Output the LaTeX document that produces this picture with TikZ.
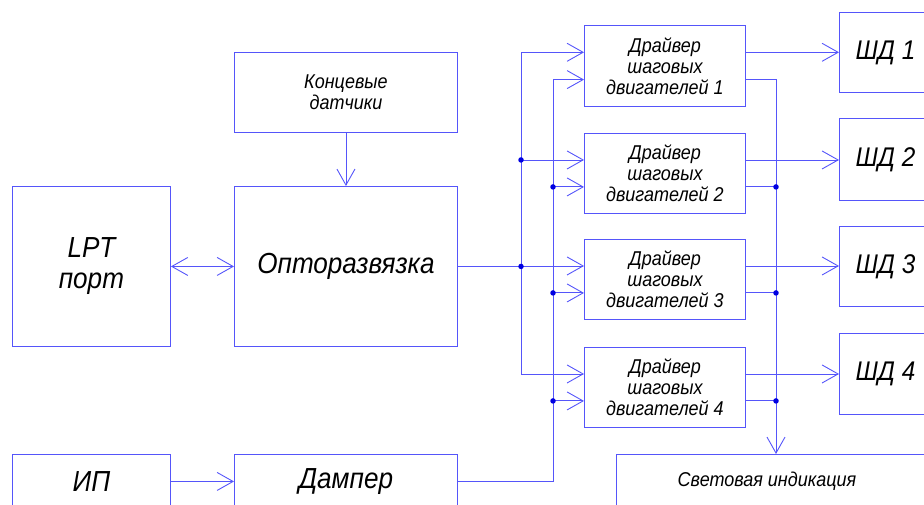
\documentclass[tikz,border=0pt]{standalone}
\usepackage{fontspec}
\setmainfont[FakeStretch=0.9]{Liberation Sans}
\usetikzlibrary{arrows.meta,calc}

\definecolor{wire}{RGB}{85,85,250}
\definecolor{joint}{RGB}{0,0,225}

\tikzset{
  box/.style={draw=wire, line width=0.9pt, rectangle, anchor=north west,
              inner sep=0pt, align=center, font=\itshape},
  big/.style={font=\fontsize{29}{31}\selectfont\itshape},
  mid/.style={font=\fontsize{27}{28}\selectfont\itshape},
  small/.style={font=\fontsize{20}{21}\selectfont\itshape},
  wireline/.style={draw=wire, line width=0.9pt},
  arr/.style={wireline, -{Straight Barb[length=16pt,width=18pt]}},
  arrboth/.style={wireline, {Straight Barb[length=16pt,width=18pt]}-{Straight Barb[length=16pt,width=18pt]}},
  dot/.style={circle, fill=joint, inner sep=0pt, minimum size=5.5pt}
}

\begin{document}
\begin{tikzpicture}[x=1pt,y=-1pt]
\useasboundingbox (0,0) rectangle (924,505);
\clip (0,0) rectangle (924,505);

% blocks
\node[box, small, minimum width=223pt, minimum height=80pt] (sensors) at (234,52) {Концевые\\датчики};
\node[box, big, minimum width=223pt, minimum height=160pt] (opto) at (234,186) {Опторазвязка};
\node[box, big, minimum width=158pt, minimum height=160pt] (lpt) at (12,186) {LPT\\порт};

\node[box, small, minimum width=161pt, minimum height=81pt] (drv1) at (584,25) {Драйвер\\шаговых\\двигателей 1};
\node[box, small, minimum width=161pt, minimum height=80pt] (drv2) at (584,133) {Драйвер\\шаговых\\двигателей 2};
\node[box, small, minimum width=161pt, minimum height=80pt] (drv3) at (584,239) {Драйвер\\шаговых\\двигателей 3};
\node[box, small, minimum width=161pt, minimum height=80pt] (drv4) at (584,347) {Драйвер\\шаговых\\двигателей 4};

\node[box, mid, minimum width=92pt, minimum height=80pt] (sd1) at (839,12) {ШД 1};
\node[box, mid, minimum width=92pt, minimum height=82pt] (sd2) at (839,118) {ШД 2};
\node[box, mid, minimum width=92pt, minimum height=80pt] (sd3) at (839,226) {ШД 3};
\node[box, mid, minimum width=92pt, minimum height=81pt] (sd4) at (839,333) {ШД 4};

\node[box, big, minimum width=158pt, minimum height=54pt] (ip) at (12,454) {ИП};
\node[box, big, minimum width=223pt, minimum height=54pt] (damper) at (234,454) {Дампер};
\node[box, minimum width=330pt, minimum height=54pt] (light) at (616,454) {};
\node[small, inner sep=0pt] (lighttext) at (767,481) {Световая индикация};

% bus positions
\coordinate (b1) at (521,0);
\coordinate (b2) at (553,0);
\coordinate (b3) at (776,0);

% driver inputs (upper / lower) and outputs (upper / lower)
\foreach \i in {1,2,3,4}{
  \coordinate (in\i a) at ($(drv\i.north west)!1/3!(drv\i.south west)$);
  \coordinate (in\i b) at ($(drv\i.north west)!2/3!(drv\i.south west)$);
  \coordinate (out\i a) at ($(drv\i.north east)!1/3!(drv\i.south east)$);
  \coordinate (out\i b) at ($(drv\i.north east)!2/3!(drv\i.south east)$);
}

% left side links
\draw[arrboth] (lpt.east) -- (opto.west);
\draw[arr] (sensors.south) -- (opto.north);
\draw[arr] (ip.east) -- (damper.west);

% control bus from the optocoupler block
\draw[wireline] (opto.east) -- (opto.east -| b1);
\draw[wireline] (in1a -| b1) -- (in4a -| b1);
\foreach \i in {1,2,3,4}{
  \draw[arr] (in\i a -| b1) -- (in\i a);
}
\node[dot] (j0) at (opto.east -| b1) {};
\node[dot] (j1) at (in2a -| b1) {};

% supply bus from the damper
\draw[wireline] (damper.east) -- (damper.east -| b2) -- (in1b -| b2);
\foreach \i in {1,2,3,4}{
  \draw[arr] (in\i b -| b2) -- (in\i b);
}
\node[dot] (j2) at (in2b -| b2) {};
\node[dot] (j3) at (in3b -| b2) {};
\node[dot] (j4) at (in4b -| b2) {};

% motor outputs
\draw[arr] (out1a) -- (out1a -| sd1.west);
\draw[arr] (out2a) -- (out2a -| sd2.west);
\draw[arr] (out3a) -- (out3a -| sd3.west);
\draw[arr] (out4a) -- (out4a -| sd4.west);

% indication bus
\draw[arr] (out1b) -- (out1b -| b3) -- (light.north -| b3);
\foreach \i in {2,3,4}{
  \draw[wireline] (out\i b) -- (out\i b -| b3);
}
\node[dot] (j5) at (out2b -| b3) {};
\node[dot] (j6) at (out3b -| b3) {};
\node[dot] (j7) at (out4b -| b3) {};
\end{tikzpicture}
\end{document}
